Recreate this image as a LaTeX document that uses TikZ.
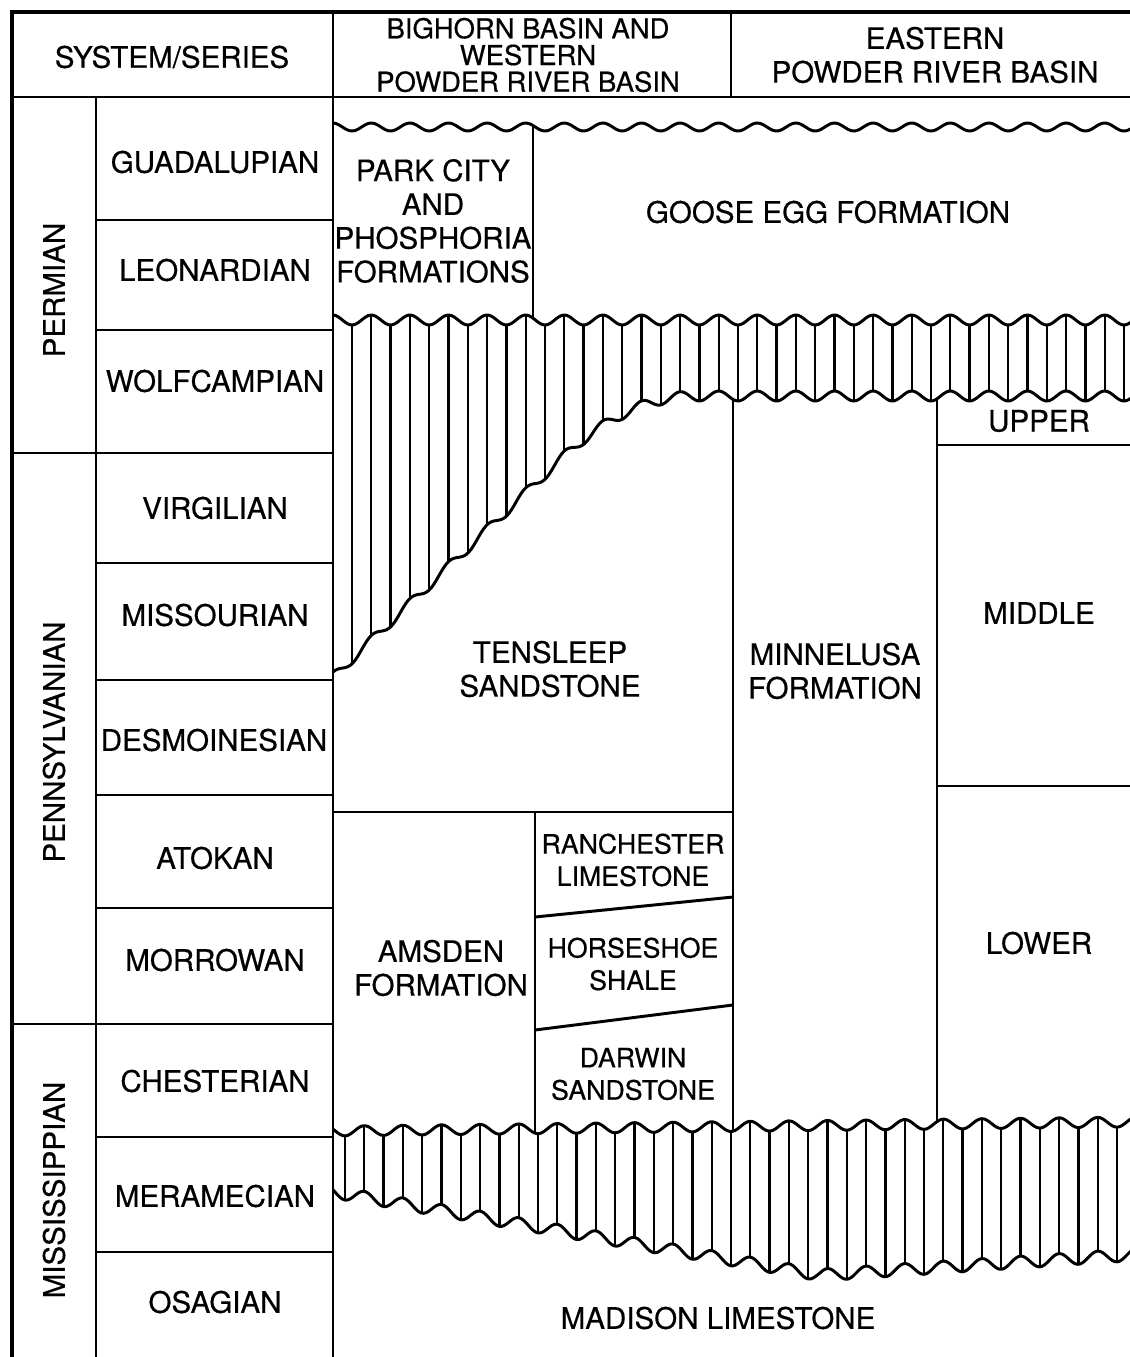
\documentclass[tikz,border=0pt]{standalone}
\usepackage{fontspec}
\setmainfont{TeX Gyre Heros}[FakeBold=0.5]
\usepackage{tikz}
\tikzset{
  frameln/.style = {line width=2.8pt},
  gridln/.style  = {line width=2.1pt},
  wavyln/.style  = {line width=2.1pt, line join=round},
  hatchln/.style = {line width=1.6pt},
  unitlbl/.style = {font=\fontsize{21}{24}\selectfont, align=center, inner sep=0pt},
  narlbl/.style  = {unitlbl, font=\fontsize{19}{23}\selectfont},
  hdrlbl/.style  = {unitlbl, font=\fontsize{19.5}{19}\selectfont},
  syslbl/.style  = {unitlbl, rotate=90}
}

\begin{document}
\begin{tikzpicture}[x=0.025cm, y=-0.025cm,
  declare function={
    gtop(\x) = 127+4*sin((\x-342.35)/38.6*360);
    ubt(\x)  = 320+5*sin((\x-342.35)/38.6*360);
    ubb(\x)  = ifthenelse(\x<560, 460+0.956*(560-\x),
                 396+64*(max(694-\x,0)/134)^2) + 5*sin((\x-342.35)/38.6*360);
    lbt(\x)  = 1131-9*(\x-333)/797 + 5*sin((\x-335.35)/38.6*360);
    lbb(\x)  = min(1192+0.1704*(\x-333), 1275-0.0645*(\x-820))
                 + 6*sin((\x-335.35)/38.6*360);
  }]
  \useasboundingbox (0,0) rectangle (1130,1357);

  % frame and column grid
  \draw[frameln] (12,1362) -- (12,12) -- (1135,12);
  \draw[gridln] (12,97) -- (1135,97);
  \draw[gridln] (333,12) -- (333,1362);
  \draw[gridln] (731,12) -- (731,97);
  \draw[gridln] (96,97) -- (96,1362);
  \draw[gridln] (12,453) -- (333,453);
  \draw[gridln] (12,1024) -- (333,1024);
  \foreach \y in {220,330,563,680,795,908,1137,1252}
    \draw[gridln] (96,\y) -- (333,\y);

  % headers
  \node[unitlbl] (syshdr) at (172,57) {SYSTEM/SERIES};
  \node[hdrlbl]  (bighdr) at (528,55) {BIGHORN BASIN AND\\WESTERN\\POWDER RIVER BASIN};
  \node[unitlbl] (easthdr) at (935,55) {EASTERN\\POWDER RIVER BASIN};

  % systems and series
  \node[syslbl] (perm)  at (54,290)  {PERMIAN};
  \node[syslbl] (penn)  at (54,742)  {PENNSYLVANIAN};
  \node[syslbl] (miss)  at (54,1190) {MISSISSIPPIAN};
  \node[unitlbl] (guad) at (215,162)  {GUADALUPIAN};
  \node[unitlbl] (leon) at (215,270)  {LEONARDIAN};
  \node[unitlbl] (wolf) at (215,381)  {WOLFCAMPIAN};
  \node[unitlbl] (virg) at (215,508)  {VIRGILIAN};
  \node[unitlbl] (misr) at (215,615)  {MISSOURIAN};
  \node[unitlbl] (desm) at (214,740)  {DESMOINESIAN};
  \node[unitlbl] (atok) at (215,858)  {ATOKAN};
  \node[unitlbl] (morr) at (215,960)  {MORROWAN};
  \node[unitlbl] (ches) at (215,1081) {CHESTERIAN};
  \node[unitlbl] (mera) at (215,1196) {MERAMECIAN};
  \node[unitlbl] (osag) at (215,1302) {OSAGIAN};

  % upper unconformity and Permian units
  \draw[wavyln] plot[domain=333:1135, samples=320] (\x,{gtop(\x)});
  \draw[gridln] (533,{gtop(533)}) -- (533,{ubt(533)});
  \draw[wavyln] plot[domain=333:1135, samples=320] (\x,{ubt(\x)});
  \draw[wavyln] plot[domain=333:1135, samples=320] (\x,{ubb(\x)});
  \foreach \k in {0,...,40} {
    \pgfmathsetmacro\hx{352+19.3*\k}
    \draw[hatchln] (\hx,{ubt(\hx)}) -- (\hx,{ubb(\hx)});
  }

  % Pennsylvanian units
  \draw[gridln] (733,{ubb(733)}) -- (733,{lbt(733)});
  \draw[gridln] (937,{ubb(937)}) -- (937,{lbt(937)});
  \draw[gridln] (937,445) -- (1135,445);
  \draw[gridln] (937,786) -- (1135,786);
  \draw[gridln] (333,812) -- (733,812);
  \draw[gridln] (535,812) -- (535,{lbt(535)});
  \draw[gridln] (535,917) -- (733,897);
  \draw[gridln] (535,1030) -- (733,1005);

  % lower unconformity
  \draw[wavyln] plot[domain=333:1135, samples=320] (\x,{lbt(\x)});
  \draw[wavyln] plot[domain=333:1135, samples=320] (\x,{lbb(\x)});
  \foreach \k in {0,...,40} {
    \pgfmathsetmacro\hx{345+19.3*\k}
    \draw[hatchln] (\hx,{lbt(\hx)}) -- (\hx,{lbb(\hx)});
  }

  % formation names
  \node[unitlbl] (park)  at (433,221)  {PARK CITY\\AND\\PHOSPHORIA\\FORMATIONS};
  \node[unitlbl] (goose) at (828,212)  {GOOSE EGG FORMATION};
  \node[unitlbl] (upper) at (1039,421) {UPPER};
  \node[unitlbl] (middl) at (1039,613) {MIDDLE};
  \node[unitlbl] (lower) at (1039,943) {LOWER};
  \node[unitlbl] (tens)  at (550,669)  {TENSLEEP\\SANDSTONE};
  \node[unitlbl] (minn)  at (835,671)  {MINNELUSA\\FORMATION};
  \node[unitlbl] (amsd)  at (441,968)  {AMSDEN\\FORMATION};
  \node[narlbl]  (ranch) at (633,860)  {RANCHESTER\\LIMESTONE};
  \node[narlbl]  (horse) at (633,964)  {HORSESHOE\\SHALE};
  \node[narlbl]  (darw)  at (633,1074) {DARWIN\\SANDSTONE};
  \node[unitlbl] (madi)  at (718,1318) {MADISON LIMESTONE};
\end{tikzpicture}
\end{document}
